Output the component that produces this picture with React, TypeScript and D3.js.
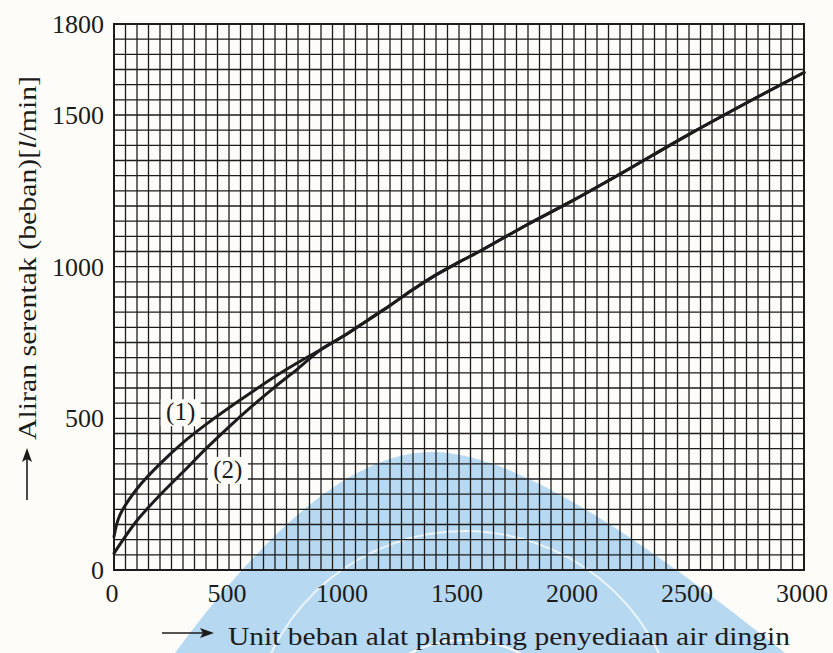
import React from 'react';
import * as d3 from 'd3';

// simultaneous flow vs. fixture units
const sharedPart = [
  [900, 727], [1000, 772], [1100, 822], [1200, 872], [1300, 925], [1400, 973],
  [1500, 1015], [1600, 1055], [1800, 1140], [2000, 1220], [2200, 1305],
  [2500, 1436], [2800, 1560], [3000, 1640],
];
const curve1Start = [
  [0, 110], [25, 180], [100, 268], [200, 350], [300, 420], [400, 480],
  [500, 535], [600, 587], [700, 638], [800, 684],
];
const curve2Start = [
  [0, 55], [100, 163], [200, 247], [300, 323], [400, 400], [500, 472],
  [600, 540], [700, 604], [800, 664],
];
const xTicks = [0, 500, 1000, 1500, 2000, 2500, 3000];
const yTicks = [0, 500, 1000, 1500, 1800];
const curveLabels = [
  { text: '(1)', x: 290, y: 520 },
  { text: '(2)', x: 495, y: 330 },
];

const W = 833;
const H = 653;
const PAPER = '#fdfcf8';
const INK = '#1c1c1c';
const FONT = '"Liberation Serif", "Times New Roman", serif';

const App = () => {
  const x = d3.scaleLinear().domain([0, 3000]).range([114, 804]);
  const y = d3.scaleLinear().domain([0, 1800]).range([570, 24]);

  const line = d3.line<number[]>()
    .x(d => x(d[0]))
    .y(d => y(d[1]))
    .curve(d3.curveCatmullRom.alpha(0.5));

  const series = [curve1Start.concat(sharedPart), curve2Start.concat(sharedPart)];

  const xGrid = d3.range(0, 3001, 50);
  const yGrid = d3.range(0, 1801, 50);

  return (
    <svg
      width={W}
      height={H}
      style={{ position: 'fixed', left: 0, top: 0, background: PAPER }}
      fontFamily={FONT}
    >
      <rect width={W} height={H} fill={PAPER} />

      {/* faint watermark of the scan (shape only) */}
      <g opacity={0.75}>
        <path
          d="M 175,653 C 255,545 345,452 432,452 C 520,452 655,550 785,653 Z"
          fill="#9fcdef"
        />
        <circle cx={465} cy={760} r={120} fill="none" stroke="#ffffff" strokeWidth={2} />
        <path d="M 255,700 A 215,215 0 0 1 675,700" fill="none" stroke="#e8f4fc" strokeWidth={2} />
      </g>

      {/* grid */}
      <g stroke={INK} strokeWidth={1.3}>
        {xGrid.map(v => (
          <line key={'gx' + v} x1={x(v)} x2={x(v)} y1={y(0)} y2={y(1800)} />
        ))}
        {yGrid.map(v => (
          <line key={'gy' + v} x1={x(0)} x2={x(3000)} y1={y(v)} y2={y(v)} />
        ))}
      </g>
      <rect
        x={x(0)}
        y={y(1800)}
        width={x(3000) - x(0)}
        height={y(0) - y(1800)}
        fill="none"
        stroke={INK}
        strokeWidth={2}
      />

      {/* curve labels sit on cleared paper */}
      {curveLabels.map(l => {
        const cx = x(l.x);
        const cy = y(l.y);
        return (
          <g key={l.text}>
            <rect x={cx - 20} y={cy - 13} width={40} height={27} fill={PAPER} />
            <text x={cx} y={cy + 8} textAnchor="middle" fontSize={25} fill={INK}>{l.text}</text>
          </g>
        );
      })}

      {/* curves */}
      {series.map((s, i) => (
        <path
          key={i}
          d={line(s) || ''}
          fill="none"
          stroke={INK}
          strokeWidth={3}
          strokeLinecap="round"
        />
      ))}

      {/* y tick labels */}
      {yTicks.map(v => (
        <text key={'yt' + v} x={104} y={y(v) + 9} textAnchor="end" fontSize={26} fill={INK}>
          {v}
        </text>
      ))}

      {/* x tick labels */}
      {xTicks.map(v => (
        <text key={'xt' + v} x={x(v) - 2} y={602} textAnchor="middle" fontSize={26} fill={INK}>
          {v}
        </text>
      ))}

      {/* x axis title with arrow */}
      <g stroke={INK} strokeWidth={1.6} fill={INK}>
        <line x1={162} x2={204} y1={633} y2={633} />
        <path d="M 214,633 L 200,628 L 203,633 L 200,638 Z" stroke="none" />
      </g>
      <text x={228} y={645} fontSize={26} fill={INK} textLength={562} lengthAdjust="spacingAndGlyphs">
        Unit beban alat plambing penyediaan air dingin
      </text>

      {/* y axis title with arrow */}
      <g stroke={INK} strokeWidth={1.6} fill={INK}>
        <line x1={27} x2={27} y1={500} y2={458} />
        <path d="M 27,448 L 22,462 L 27,459 L 32,462 Z" stroke="none" />
      </g>
      <text
        transform="translate(36,440) rotate(-90)"
        fontSize={25}
        fill={INK}
        textLength={364}
        lengthAdjust="spacingAndGlyphs"
      >
        Aliran serentak (beban)[<tspan fontStyle="italic">l</tspan>/min]
      </text>
    </svg>
  );
};

export default App;
